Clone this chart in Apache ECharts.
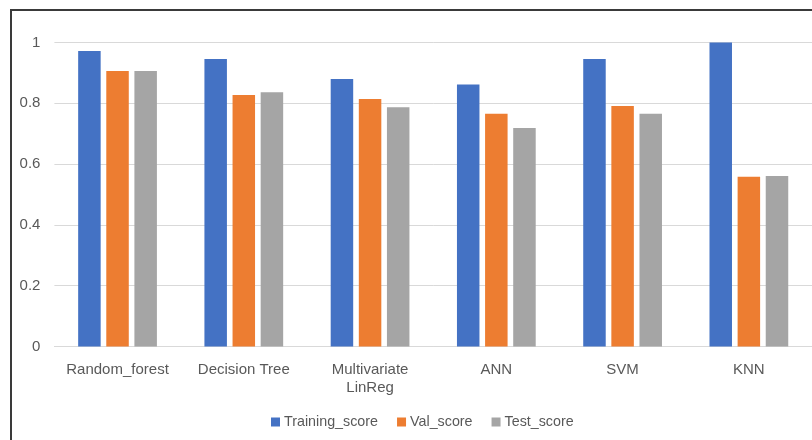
<!DOCTYPE html>
<html>
<head>
<meta charset="utf-8">
<script src="https://cdn.jsdelivr.net/npm/echarts@6/dist/echarts.min.js"></script>
<style>
  html, body { margin: 0; padding: 0; background: #fff; }
  #chart { width: 812px; height: 440px; }
</style>
</head>
<body>
<div id="chart"></div>
<script>
// Model names on the category axis
const models = ['Random_forest', 'Decision Tree', 'Multivariate\nLinReg', 'ANN', 'SVM', 'KNN'];

// Scores per model
const trainingScore = [0.972, 0.946, 0.880, 0.862, 0.946, 1.000];
const valScore      = [0.906, 0.827, 0.814, 0.766, 0.791, 0.558];
const testScore     = [0.906, 0.836, 0.787, 0.719, 0.766, 0.561];

// Value axis ticks
const yTicks = [0, 0.2, 0.4, 0.6, 0.8, 1];

const textColor = '#595959';
const fontFamily = 'Liberation Sans, Arial, sans-serif';

const chart = echarts.init(document.getElementById('chart'), null, { renderer: 'canvas' });

chart.setOption({
  animation: false,
  backgroundColor: '#ffffff',
  textStyle: { fontFamily: fontFamily },
  graphic: [{
    type: 'rect',
    shape: { x: 11, y: 10, width: 900, height: 500 },
    style: { fill: 'none', stroke: '#3a3a3a', lineWidth: 2 },
    z: 100
  }],
  grid: { left: 54.4, right: 0, top: 42.5, bottom: 93.5, containLabel: false },
  legend: {
    top: 415,
    left: 271,
    padding: 0,
    itemWidth: 9,
    itemHeight: 9,
    itemGap: 19,
    icon: 'rect',
    textStyle: { color: textColor, fontSize: 14.3, fontFamily: fontFamily, padding: [0, 0, 0, -1] },
    data: ['Training_score', 'Val_score', 'Test_score']
  },
  xAxis: {
    type: 'category',
    data: models,
    axisLine: { show: true, lineStyle: { color: '#d9d9d9', width: 1 } },
    axisTick: { show: false },
    axisLabel: { color: textColor, fontSize: 15, margin: 14, lineHeight: 18, interval: 0 }
  },
  yAxis: {
    type: 'value',
    min: yTicks[0],
    max: yTicks[yTicks.length - 1],
    interval: 0.2,
    axisLine: { show: false },
    axisTick: { show: false },
    splitLine: { lineStyle: { color: '#d9d9d9', width: 1 } },
    axisLabel: {
      color: textColor, fontSize: 15, margin: 14,
      formatter: v => String(Math.round(v * 10) / 10)
    }
  },
  series: [
    { name: 'Training_score', type: 'bar', data: trainingScore, barWidth: 22.5, barGap: '25%',
      itemStyle: { color: '#4472C4' } },
    { name: 'Val_score', type: 'bar', data: valScore, barWidth: 22.5, barGap: '25%',
      itemStyle: { color: '#ED7D31' } },
    { name: 'Test_score', type: 'bar', data: testScore, barWidth: 22.5, barGap: '25%',
      itemStyle: { color: '#A5A5A5' } }
  ]
});
</script>
</body>
</html>
